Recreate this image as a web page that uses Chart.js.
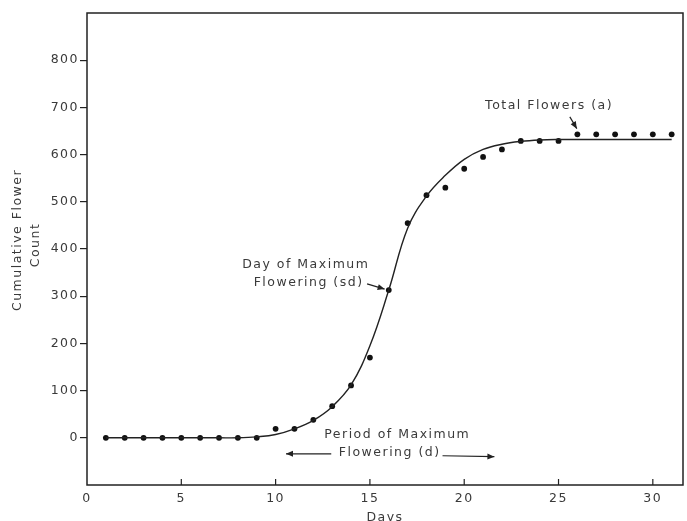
<!DOCTYPE html>
<html>
<head>
<meta charset="utf-8">
<script src="https://cdn.jsdelivr.net/npm/chart.js@4/dist/chart.umd.min.js"></script>
<style>
    html, body { margin: 0; padding: 0; background: #fff; }
</style>
</head>
<body>
<canvas id="plot" width="687" height="521"></canvas>
<script>
// observed cumulative flower counts, one dot per day
const days = [1, 2, 3, 4, 5, 6, 7, 8, 9, 10, 11, 12, 13, 14, 15, 16,
    17, 18, 19, 20, 21, 22, 23, 24, 25, 26, 27, 28, 29, 30, 31];
const observedCounts = [0, 0, 0, 0, 0, 0, 0, 0, 0, 19, 19, 38, 67, 111, 170, 313,
    455, 514, 530, 570, 595, 611, 629, 629, 629, 643, 643, 643, 643, 643, 643];
// fitted curve at each day
const fittedCounts = [0, 0, 0, 0, 0, 0, 0, 0, 2, 7, 19, 37, 66, 112, 195, 313,
    444, 512, 556, 590, 611, 622, 628, 631, 632, 632, 632, 632, 632, 632, 632];

const xTicks = [0, 5, 10, 15, 20, 25, 30];
const yTicks = [0, 100, 200, 300, 400, 500, 600, 700, 800];

const ink = '#222';
const textInk = '#3a3a3a';
const family = '"DejaVu Sans", sans-serif';

// text notes and arrows, placed in data units
const notes = [
    { text: 'Total Flowers (a)', day: 24.5, count: 703 },
    { text: 'Day of Maximum', day: 11.6, count: 367 },
    { text: 'Flowering (sd)', day: 11.75, count: 329 },
    { text: 'Period of Maximum', day: 16.45, count: 6 },
    { text: 'Flowering (d)', day: 16.05, count: -32 }
];
const arrows = [
    { from: [25.6, 680], to: [25.97, 655] },
    { from: [14.85, 326], to: [15.78, 315] },
    { from: [12.95, -34], to: [10.55, -34] },
    { from: [18.85, -38], to: [21.6, -40] }
];

const spacing = {
    id: 'spacing',
    beforeUpdate(chart) { chart.ctx.letterSpacing = '1.5px'; },
    beforeDraw(chart) { chart.ctx.letterSpacing = '1.5px'; }
};

const annotate = {
    id: 'annotate',
    afterDraw(chart) {
        const { ctx, chartArea: a } = chart;
        const x = chart.scales.x, y = chart.scales.y;
        ctx.save();
        ctx.strokeStyle = ink;
        ctx.fillStyle = ink;
        ctx.lineWidth = 1.5;
        ctx.strokeRect(a.left, a.top, a.right - a.left, a.bottom - a.top);

        ctx.lineWidth = 1.2;
        xTicks.forEach(v => {
            if (v === 0) return;
            const px = x.getPixelForValue(v);
            ctx.beginPath();
            ctx.moveTo(px, a.bottom);
            ctx.lineTo(px, a.bottom - 6);
            ctx.stroke();
        });

        arrows.forEach(ar => {
            const x0 = x.getPixelForValue(ar.from[0]), y0 = y.getPixelForValue(ar.from[1]);
            const x1 = x.getPixelForValue(ar.to[0]), y1 = y.getPixelForValue(ar.to[1]);
            const ang = Math.atan2(y1 - y0, x1 - x0);
            ctx.beginPath();
            ctx.moveTo(x0, y0);
            ctx.lineTo(x1, y1);
            ctx.stroke();
            ctx.beginPath();
            ctx.moveTo(x1, y1);
            ctx.lineTo(x1 - 7 * Math.cos(ang) + 3 * Math.sin(ang), y1 - 7 * Math.sin(ang) - 3 * Math.cos(ang));
            ctx.lineTo(x1 - 7 * Math.cos(ang) - 3 * Math.sin(ang), y1 - 7 * Math.sin(ang) + 3 * Math.cos(ang));
            ctx.closePath();
            ctx.fill();
        });

        ctx.letterSpacing = '1.5px';
        ctx.fillStyle = textInk;
        ctx.font = '12.5px ' + family;
        ctx.textAlign = 'center';
        ctx.textBaseline = 'middle';
        notes.forEach(n => {
            ctx.fillText(n.text, x.getPixelForValue(n.day), y.getPixelForValue(n.count));
        });

        // y axis title, two rotated lines
        ctx.translate(17.5, 240);
        ctx.rotate(-Math.PI / 2);
        ctx.fillText('Cumulative Flower', 0, 0);
        ctx.fillText('Count', -5, 18);
        ctx.restore();
    }
};

new Chart(document.getElementById('plot'), {
    type: 'scatter',
    data: {
        datasets: [{
            label: 'Fitted',
            data: days.map((d, i) => ({ x: d, y: fittedCounts[i] })),
            showLine: true,
            borderColor: ink,
            borderWidth: 1.4,
            pointRadius: 0,
            tension: 0.4
        }, {
            label: 'Observed',
            data: days.map((d, i) => ({ x: d, y: observedCounts[i] })),
            showLine: false,
            pointRadius: 2.9,
            pointBorderWidth: 0,
            pointBackgroundColor: '#111'
        }]
    },
    options: {
        responsive: false,
        animation: false,
        layout: { padding: { top: 13, right: 1, left: 0, bottom: 0 } },
        plugins: { legend: { display: false }, tooltip: { enabled: false } },
        scales: {
            x: {
                type: 'linear',
                min: 0,
                max: 31.6,
                afterBuildTicks: s => { s.ticks = xTicks.map(v => ({ value: v })); },
                afterFit: s => { s.height = 36; },
                grid: { display: false, drawTicks: false },
                border: { display: false },
                ticks: { color: textInk, padding: 6, maxRotation: 0, font: { family, size: 12.5 } },
                title: {
                    display: true, text: 'Days', color: textInk,
                    font: { family, size: 12.5 }, padding: { top: 0, bottom: -4 }
                }
            },
            y: {
                min: -100,
                max: 900,
                afterBuildTicks: s => { s.ticks = yTicks.map(v => ({ value: v })); },
                afterFit: s => { s.width = 87; },
                grid: { drawOnChartArea: false, drawTicks: true, tickLength: 7, color: ink, lineWidth: 1.2 },
                border: { display: false },
                ticks: { color: textInk, padding: 1, font: { family, size: 12.5 } }
            }
        }
    },
    plugins: [spacing, annotate]
});
</script>
</body>
</html>
